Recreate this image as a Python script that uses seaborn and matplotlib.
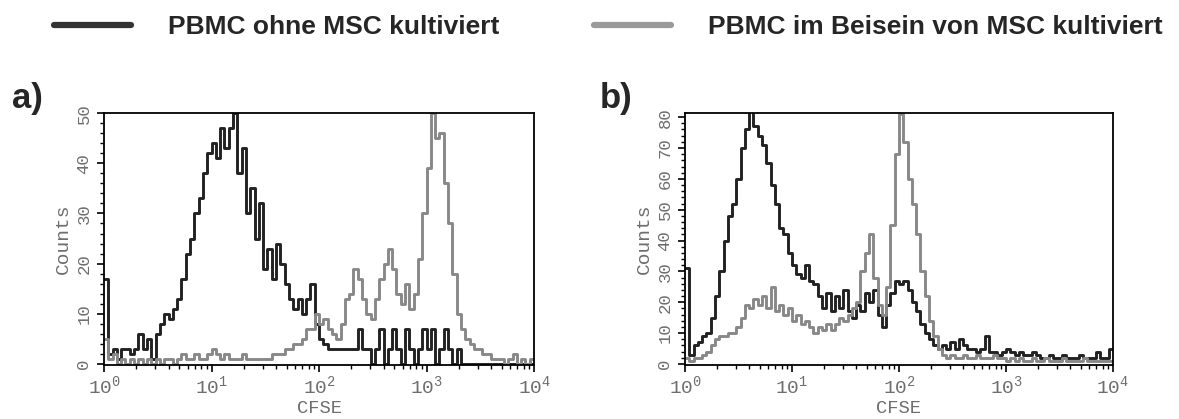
import numpy as np
import matplotlib
matplotlib.use("Agg")
import matplotlib.pyplot as plt
from matplotlib.ticker import MultipleLocator, LogLocator, NullFormatter
import seaborn as sns

# CFSE channels: 25 channels per decade from 10^0 to 10^4 (log10 edges)
log_edges = np.arange(0, 4.0001, 0.04)

# a) counts per channel
a_ohne = [17, 2, 3, 1, 3, 3, 2, 3, 6, 3, 5, 1, 6, 8, 10, 9, 11, 13, 17, 22,
          25, 30, 33, 38, 42, 44, 41, 47, 43, 47, 50, 38, 43, 30, 35, 25, 32, 19, 23, 17,
          24, 20, 16, 13, 11, 13, 10, 13, 16, 8, 5, 4, 3, 3, 3, 3, 3, 3, 3, 7,
          3, 3, 0, 3, 7, 0, 3, 7, 3, 0, 7, 3, 0, 3, 7, 3, 7, 0, 3, 7,
          3, 0, 3, 0, 0, 0, 0, 0, 0, 0, 0, 0, 0, 0, 0, 0, 0, 0, 0, 0]
a_mit = [5, 1, 2, 0, 1, 0, 1, 0, 1, 0, 1, 0, 1, 0, 1, 1, 0, 1, 2, 1,
         1, 2, 1, 1, 2, 3, 2, 1, 2, 1, 1, 1, 2, 1, 1, 1, 1, 1, 1, 2,
         2, 2, 3, 3, 4, 4, 5, 7, 7, 10, 8, 9, 7, 6, 5, 8, 13, 14, 19, 17,
         13, 10, 9, 13, 17, 20, 23, 19, 14, 12, 16, 11, 14, 21, 30, 39, 50, 45, 46, 36,
         28, 18, 10, 7, 5, 4, 3, 3, 2, 2, 1, 1, 1, 0, 1, 2, 0, 1, 0, 1]

# b) counts per channel
b_ohne = [31, 3, 6, 7, 9, 10, 15, 22, 30, 40, 48, 52, 60, 70, 76, 82, 77, 74, 71, 65,
          58, 52, 44, 42, 36, 32, 29, 28, 32, 27, 26, 22, 18, 23, 17, 22, 18, 24, 17, 15,
          19, 17, 23, 20, 24, 16, 12, 19, 23, 27, 26, 27, 24, 20, 17, 13, 10, 8, 6, 5,
          6, 5, 7, 5, 8, 6, 5, 5, 4, 5, 9, 4, 4, 3, 4, 5, 4, 3, 4, 3,
          3, 4, 3, 2, 2, 3, 2, 2, 3, 2, 2, 2, 3, 2, 2, 2, 4, 2, 2, 5]
b_mit = [2, 1, 2, 2, 3, 4, 6, 8, 9, 9, 10, 10, 12, 15, 19, 18, 21, 19, 22, 18,
         25, 17, 19, 16, 18, 14, 16, 13, 14, 12, 10, 12, 11, 13, 11, 13, 15, 14, 16, 18,
         20, 30, 36, 42, 28, 19, 16, 25, 45, 68, 81, 72, 60, 52, 42, 30, 22, 14, 9, 5,
         3, 2, 3, 2, 2, 3, 2, 2, 3, 2, 2, 2, 3, 2, 2, 1, 2, 1, 2, 1,
         1, 2, 1, 1, 2, 1, 1, 1, 2, 1, 1, 1, 1, 2, 1, 1, 1, 1, 1, 1]

label_ohne = "PBMC ohne MSC kultiviert"
label_mit = "PBMC im Beisein von MSC kultiviert"
panel_names = ["a)", "b)"]
panel_ymax = [50, 81.3]
xtick_vals = [1, 10, 100, 1000, 10000]
xtick_labels = [r"$\mathregular{10^{0}}$", r"$\mathregular{10^{1}}$", r"$\mathregular{10^{2}}$",
                r"$\mathregular{10^{3}}$", r"$\mathregular{10^{4}}$"]

sns.set_theme(style="ticks")
plt.rcParams["font.family"] = ["Liberation Sans", "DejaVu Sans"]
plt.rcParams["mathtext.fontset"] = "custom"
plt.rcParams["mathtext.rm"] = "Liberation Mono"

col_ohne = "#222222"
col_mit = "#888888"
tick_grey = "#6e6e6e"
mono = "Liberation Mono"

fig = plt.figure(figsize=(11.79, 4.19), dpi=100)
ax_a = fig.add_axes([0.0882, 0.129, 0.3648, 0.601])
ax_b = fig.add_axes([0.581, 0.129, 0.363, 0.601])

x_channels = 10 ** log_edges
for ax, ohne, mit, ymax, name in zip([ax_a, ax_b], [a_ohne, b_ohne], [a_mit, b_mit],
                                     panel_ymax, panel_names):
    sns.lineplot(x=x_channels, y=ohne + [ohne[-1]], drawstyle="steps-post", estimator=None,
                 sort=False, color=col_ohne, lw=2.1, ax=ax, label=label_ohne, legend=False)
    sns.lineplot(x=x_channels, y=mit + [mit[-1]], drawstyle="steps-post", estimator=None,
                 sort=False, color=col_mit, lw=2.1, ax=ax, label=label_mit, legend=False)

    ax.set_xscale("log")
    ax.set_xlim(1, 10000)
    ax.set_ylim(-0.004 * ymax, ymax)
    ax.set_xticks(xtick_vals)
    ax.set_xticklabels(xtick_labels)
    ax.xaxis.set_minor_locator(LogLocator(base=10, subs=np.arange(2, 10)))
    ax.xaxis.set_minor_formatter(NullFormatter())
    ax.yaxis.set_major_locator(MultipleLocator(10))
    ax.yaxis.set_minor_locator(MultipleLocator(2))

    for sp in ax.spines.values():
        sp.set_visible(True)
        sp.set_color("black")
        sp.set_linewidth(1.3)
    ax.tick_params(which="major", direction="out", length=5, width=1.2, color="black",
                   labelcolor=tick_grey)
    ax.tick_params(which="minor", direction="out", length=3, width=1.0, color="black")
    ax.tick_params(axis="x", labelsize=14, pad=2)
    ax.tick_params(axis="y", labelsize=12.5, pad=4)
    for t in ax.get_xticklabels():
        t.set_family(mono)
    for t in ax.get_yticklabels():
        t.set_rotation(90)
        t.set_va("center")
        t.set_family(mono)
    ax.set_xlabel("CFSE", family=mono, fontsize=13.5, color=tick_grey, labelpad=2)
    ax.set_ylabel("Counts", family=mono, fontsize=14, color=tick_grey, labelpad=3)
    ax.set_facecolor("white")

fig.text(0.010, 0.742, panel_names[0], fontsize=25, fontweight="bold", va="baseline")
fig.text(0.509, 0.742, panel_names[1], fontsize=25, fontweight="bold", va="baseline")

handles = ax_a.get_lines()[:2]
leg = fig.legend(handles, [label_ohne, label_mit], loc="upper left", bbox_to_anchor=(0.026, 1.02),
                 ncol=2, frameon=False, handlelength=2.9, handletextpad=1.4, columnspacing=3.6,
                 prop={"weight": "bold", "size": 19})
for h, c in zip(leg.legend_handles, ["#333333", "#9a9a9a"]):
    h.set_linewidth(4.5)
    h.set_color(c)

fig.savefig("out.png", dpi=100)
